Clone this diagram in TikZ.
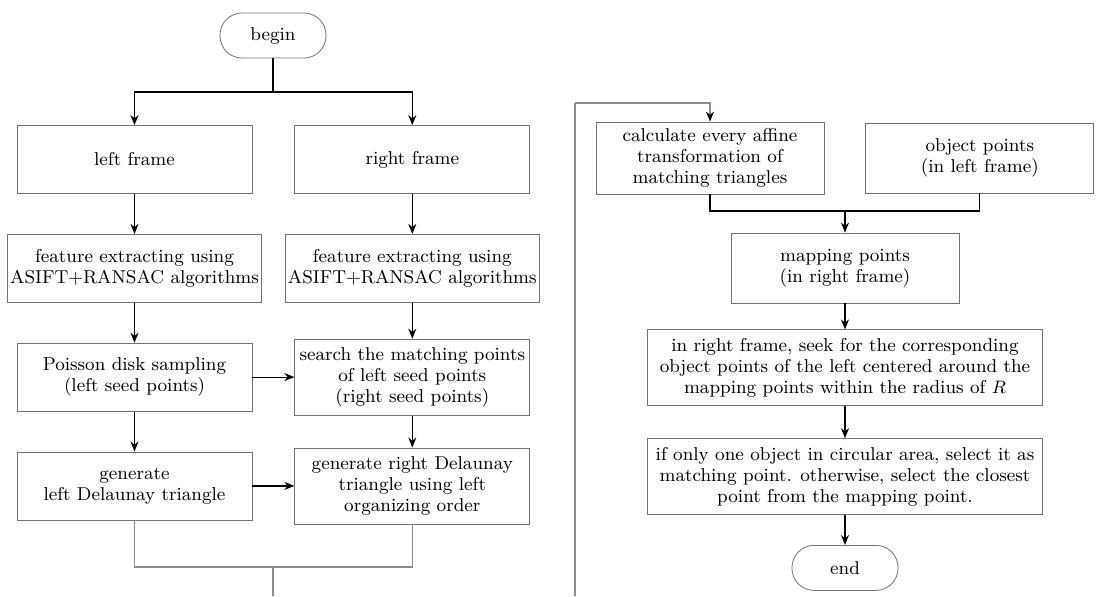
\documentclass[tikz,border=0pt]{standalone}
\usetikzlibrary{arrows.meta,positioning}

\begin{document}
\begin{tikzpicture}[
  x=0.5pt, y=-0.5pt,
  font=\fontsize{9.3}{10.5}\selectfont,
  box/.style={draw=black!55, fill=white, align=center, inner sep=1.5pt,
              minimum width=117.5pt, minimum height=34pt},
  fbox/.style={box, minimum width=124.5pt},
  tbox/.style={box, minimum width=114pt, minimum height=35pt},
  wbox/.style={box, minimum width=197.5pt, minimum height=38pt},
  term/.style={draw=black!55, rounded corners=11pt, align=center,
               minimum width=53pt, minimum height=22.5pt},
  arr/.style={-{Stealth[length=5pt,width=4pt]}, semithick},
  back/.style={draw=black!45, semithick}
]
\useasboundingbox (0,0) rectangle (1105,596);
% --- left part ---
\node[term] (begin) at (273,35.5) {begin};
\node[box] (lf) at (134.5,159.5) {left frame};
\node[box, right=21pt of lf] (rf) {right frame};
\node[fbox, below=20pt of lf] (fl) {feature extracting using\\ ASIFT+RANSAC algorithms};
\node[fbox, below=20pt of rf] (fr) {feature extracting using\\ ASIFT+RANSAC algorithms};
\node[box, below=20pt of fl] (pois) {Poisson disk sampling\\ (left seed points)};
\node[box, right=21pt of pois, minimum height=38pt] (srch) {search the matching points\\ of left seed points\\ (right seed points)};
\node[box, below=20pt of pois] (gl) {generate\\ left Delaunay triangle};
\node[box, right=21pt of gl, minimum height=38pt] (gr) {generate right Delaunay\\ triangle using left\\ organizing order};
% --- right part ---
\node[tbox, minimum height=36pt] (calc) at (710,158) {calculate every affine\\ transformation of\\ matching triangles};
\node[tbox, right=20.5pt of calc] (obj) {object points\\ (in left frame)};
\node[tbox] (map) at (845,268) {mapping points\\ (in right frame)};
\node[wbox, below=13pt of map] (seek) {in right frame, seek for the corresponding\\ object points of the left centered around the\\ mapping points within the radius of $R$};
\node[wbox, below=16pt of seek] (ifb) {if only one object in circular area, select it as\\ matching point. otherwise, select the closest\\ point from the mapping point.};
\node[term, below=15pt of ifb] (end) {end};
% --- joints ---
\coordinate (split) at (273,92);
\coordinate (merge) at (273,567);
\coordinate (cut1) at (273,596);
\coordinate (cut2) at (575,596);
\coordinate (turn) at (575,103);
\coordinate (join) at (845,211);
% --- arrows ---
\draw[semithick] (begin) -- (split);
\draw[arr] (split) -| (lf);
\draw[arr] (split) -| (rf);
\draw[arr] (lf) -- (fl);
\draw[arr] (rf) -- (fr);
\draw[arr] (fl) -- (pois);
\draw[arr] (fr) -- (srch);
\draw[arr] (pois) -- (srch);
\draw[arr] (pois) -- (gl);
\draw[arr] (srch) -- (gr);
\draw[arr] (gl) -- (gr);
\draw[back] (gl) |- (merge);
\draw[back] (gr) |- (merge);
\draw[back] (merge) -- (cut1);
\draw[back] (cut2) -- (turn);
\draw[arr, draw=black!45, -{Stealth[length=5pt,width=4pt,fill=black,color=black]}] (turn) -| (calc.north);
\draw[semithick] (calc.south) |- (join) -| (obj.south);
\draw[arr] (join) -- (map);
\draw[arr] (map) -- (seek);
\draw[arr] (seek) -- (ifb);
\draw[arr] (ifb) -- (end);
\end{tikzpicture}
\end{document}
